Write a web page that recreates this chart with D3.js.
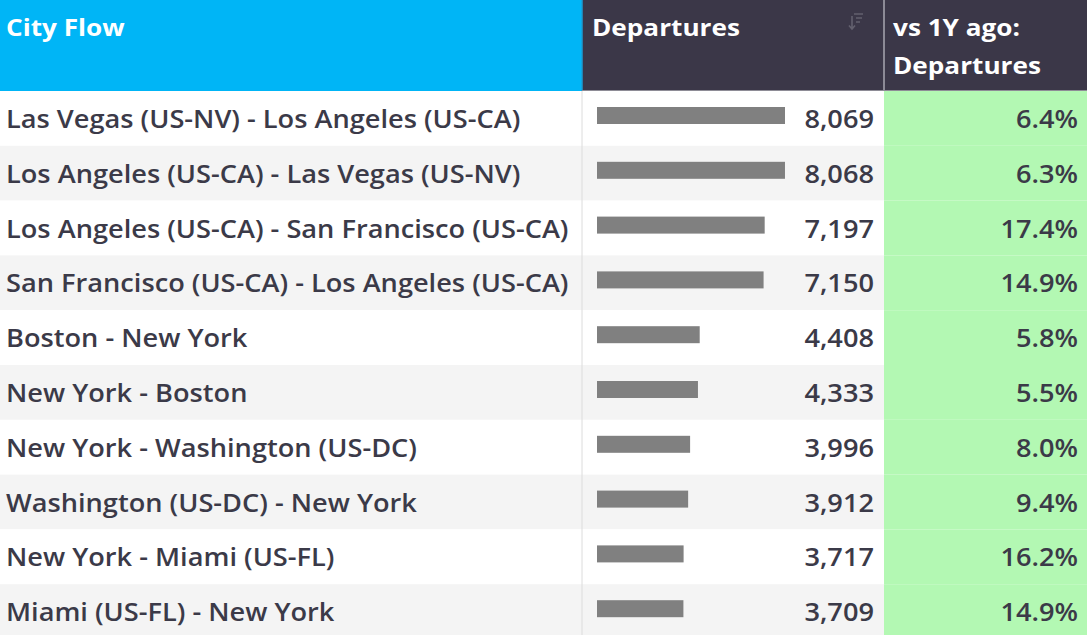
<!DOCTYPE html>
<html>
<head>
<meta charset="utf-8">
<script src="https://cdn.jsdelivr.net/npm/d3@7"></script>
<style>
  body { margin: 0; background: #fff; }
  svg { display: block; font-family: "Open Sans", sans-serif; }
</style>
</head>
<body>
<div id="table"></div>
<script>
// table data
var cityFlows = [
    "Las Vegas (US-NV) - Los Angeles (US-CA)",
    "Los Angeles (US-CA) - Las Vegas (US-NV)",
    "Los Angeles (US-CA) - San Francisco (US-CA)",
    "San Francisco (US-CA) - Los Angeles (US-CA)",
    "Boston - New York",
    "New York - Boston",
    "New York - Washington (US-DC)",
    "Washington (US-DC) - New York",
    "New York - Miami (US-FL)",
    "Miami (US-FL) - New York"
];
var departures = [8069, 8068, 7197, 7150, 4408, 4333, 3996, 3912, 3717, 3709];
var vsLastYear = [6.4, 6.3, 17.4, 14.9, 5.8, 5.5, 8.0, 9.4, 16.2, 14.9];
var headers = [["City Flow"], ["Departures"], ["vs 1Y ago:", "Departures"]];

var width = 1087, height = 635;
var headerH = 91, rowH = 54.8;
var colX = [0, 582, 884, width];
var textColor = "#3b3a48";
var stretch = 1.11; // the type in the picture is a bit wide

var svg = d3.select("#table").append("svg")
    .attr("width", width)
    .attr("height", height);

// rows
var y = d3.scaleBand()
    .domain(d3.range(cityFlows.length))
    .range([headerH, headerH + rowH * cityFlows.length])
    .padding(0);

// bar scale
var x = d3.scaleLinear()
    .domain([0, d3.max(departures)])
    .range([597, 785]);

function bodyText(sel, tx) {
    sel.attr("transform", "translate(" + tx + ",37) scale(" + stretch + ",1)")
        .attr("fill", textColor)
        .attr("font-size", 24.5)
        .attr("font-weight", 600);
}

var rows = svg.selectAll("g.row")
    .data(cityFlows)
    .enter().append("g")
    .attr("class", "row")
    .attr("transform", function(d, i) { return "translate(0," + y(i) + ")"; });

rows.append("rect")
    .attr("width", colX[2])
    .attr("height", y.bandwidth())
    .attr("fill", function(d, i) { return i % 2 ? "#f4f4f4" : "#ffffff"; });

rows.append("rect")
    .attr("x", colX[2])
    .attr("width", colX[3] - colX[2])
    .attr("height", y.bandwidth())
    .attr("fill", "#b3f8b3");

rows.append("text")
    .call(bodyText, 6)
    .text(function(d) { return d; });

rows.append("rect")
    .attr("x", x(0))
    .attr("y", 16)
    .attr("width", function(d, i) { return x(departures[i]) - x(0); })
    .attr("height", 17)
    .attr("fill", "#808080");

rows.append("text")
    .attr("text-anchor", "end")
    .call(bodyText, 874)
    .text(function(d, i) { return d3.format(",")(departures[i]); });

rows.append("text")
    .attr("text-anchor", "end")
    .call(bodyText, 1078)
    .text(function(d, i) { return d3.format(".1f")(vsLastYear[i]) + "%"; });

// column divider in body
svg.append("line")
    .attr("x1", colX[1]).attr("x2", colX[1])
    .attr("y1", headerH).attr("y2", height)
    .attr("stroke", "#dcdcdc")
    .attr("stroke-width", 1);

// header
var headerFill = ["#00b5f6", "#3b3748", "#3b3748"];
var headerPad = [6, 10, 9];
var head = svg.selectAll("g.head")
    .data(headers)
    .enter().append("g")
    .attr("class", "head")
    .attr("transform", function(d, i) { return "translate(" + colX[i] + ",0)"; });

head.append("rect")
    .attr("width", function(d, i) { return colX[i + 1] - colX[i]; })
    .attr("height", headerH)
    .attr("fill", function(d, i) { return headerFill[i]; });

head.each(function(d, i) {
    d3.select(this).selectAll("text")
        .data(d)
        .enter().append("text")
        .attr("transform", function(t, j) {
            return "translate(" + headerPad[i] + "," + (36 + j * 38) + ") scale(1.09,1)";
        })
        .attr("fill", "#ffffff")
        .attr("font-size", 24)
        .attr("font-weight", 700)
        .text(function(t) { return t; });
});

// header borders
svg.append("line")
    .attr("x1", colX[2]).attr("x2", colX[2])
    .attr("y1", 0).attr("y2", headerH)
    .attr("stroke", "#a9a7b0")
    .attr("stroke-width", 1.5);
svg.append("line")
    .attr("x1", colX[1]).attr("x2", colX[1])
    .attr("y1", 0).attr("y2", headerH)
    .attr("stroke", "#1a9fd6")
    .attr("stroke-width", 1.5);
svg.append("line")
    .attr("x1", colX[1]).attr("x2", width)
    .attr("y1", headerH - 0.5).attr("y2", headerH - 0.5)
    .attr("stroke", "#8e8c96")
    .attr("stroke-width", 1);

// sort icon
var icon = svg.append("g")
    .attr("transform", "translate(848,13)")
    .attr("stroke", "#63606e")
    .attr("stroke-width", 1.6)
    .attr("fill", "none");
icon.append("path").attr("d", "M4,3V16M1,12.5L4,16L7,12.5");
icon.append("path").attr("d", "M6,1H15M8,5H14M8,9H12");
</script>
</body>
</html>
